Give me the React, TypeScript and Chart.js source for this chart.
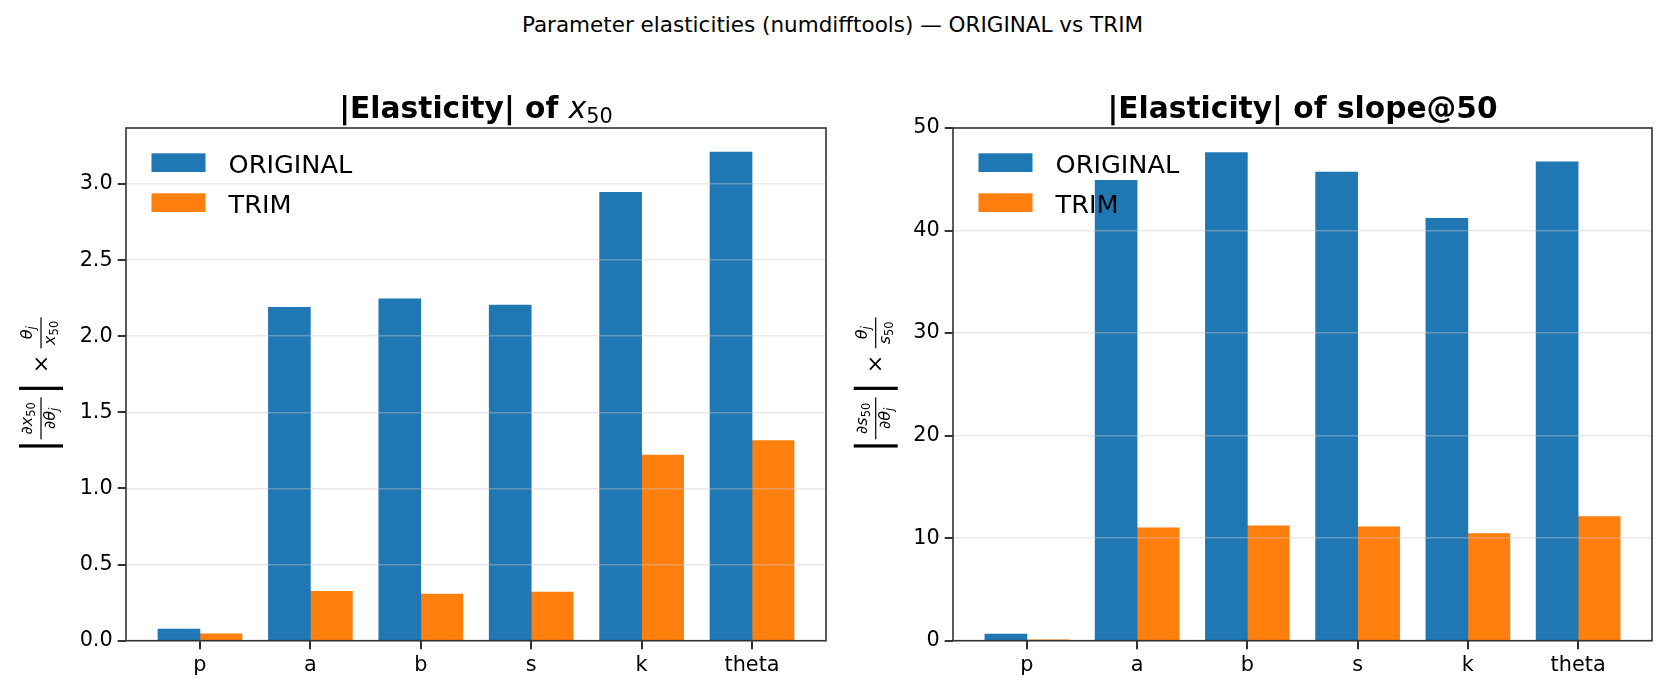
import React, { useEffect, useRef } from 'react';
import { Chart, registerables } from 'chart.js';

Chart.register(...registerables);

const categories = ['p', 'a', 'b', 's', 'k', 'theta'];
const seriesNames = ['ORIGINAL', 'TRIM'];
const seriesColors = ['#1f77b4', '#ff7f0e'];

// |elasticity| of x50
const x50Original = [0.076, 2.19, 2.245, 2.205, 2.945, 3.21];
const x50Trim = [0.045, 0.325, 0.306, 0.32, 1.22, 1.315];
const x50Ticks = [0, 0.5, 1.0, 1.5, 2.0, 2.5, 3.0];

// |elasticity| of slope@50
const slopeOriginal = [0.65, 44.9, 47.6, 45.7, 41.2, 46.7];
const slopeTrim = [0.03, 11.0, 11.2, 11.1, 10.45, 12.1];
const slopeTicks = [0, 10, 20, 30, 40, 50];

const FONT = '"DejaVu Sans"';
const H = 692;
const TICK = 7.3;

type Seg = { t: string; f: string; dy?: number };

function drawSegs(ctx: CanvasRenderingContext2D, segs: Seg[], cx: number, y: number) {
  let total = 0;
  segs.forEach((s) => {
    ctx.font = s.f;
    total += ctx.measureText(s.t).width;
  });
  let x = cx - total / 2;
  segs.forEach((s) => {
    ctx.font = s.f;
    ctx.fillText(s.t, x, y + (s.dy || 0));
    x += ctx.measureText(s.t).width;
  });
}

function drawFrac(ctx: CanvasRenderingContext2D, x0: number, x1: number, num: Seg[], den: Seg[]) {
  ctx.fillRect(x0, 0.4, x1 - x0, 1.2);
  const c = (x0 + x1) / 2;
  drawSegs(ctx, num, c, -8);
  drawSegs(ctx, den, c, 15);
}

// rotated math label |d s50 / d theta_j| x theta_j / s50
function drawYLabel(ctx: CanvasRenderingContext2D, cx: number, cy: number, sym: string) {
  ctx.save();
  ctx.translate(cx, cy);
  ctx.rotate(-Math.PI / 2);
  ctx.fillStyle = '#000';
  ctx.textAlign = 'left';
  ctx.textBaseline = 'alphabetic';
  const it = `italic 16px ${FONT}`;
  const rg = `16px ${FONT}`;
  const sub = `11.5px ${FONT}`;
  const subIt = `italic 11.5px ${FONT}`;
  ctx.fillRect(-65.2, -21, 3.2, 44);
  drawFrac(ctx, -57, -15,
    [{ t: '∂', f: rg }, { t: sym, f: it }, { t: '50', f: sub, dy: 3 }],
    [{ t: '∂', f: rg }, { t: 'θ', f: it }, { t: 'j', f: subIt, dy: 3 }]);
  ctx.fillRect(-7.6, -21, 3.2, 44);
  ctx.font = `22px ${FONT}`;
  ctx.fillText('×', 9, 7.5);
  drawFrac(ctx, 34, 65,
    [{ t: 'θ', f: it }, { t: 'j', f: subIt, dy: 3 }],
    [{ t: sym, f: it }, { t: '50', f: sub, dy: 3 }]);
  ctx.restore();
}

const decorPlugin = {
  id: 'decor',
  afterDraw(chart: any, _args: any, opts: any) {
    const { ctx, chartArea: a } = chart;
    const xs = chart.scales.x;
    const ys = chart.scales.y;
    ctx.save();
    // axes frame
    ctx.strokeStyle = '#333';
    ctx.lineWidth = 1.6;
    ctx.strokeRect(a.left, a.top, a.right - a.left, a.bottom - a.top);

    // tick marks, outward
    ctx.fillStyle = '#333';
    categories.forEach((_, i) => {
      const px = Math.round(xs.getPixelForValue(i));
      ctx.fillRect(px - 1, Math.round(a.bottom), 2, TICK + 1);
    });
    opts.yTicks.forEach((v: number) => {
      const py = Math.round(ys.getPixelForValue(v));
      ctx.fillRect(Math.round(a.left) - TICK - 1, py - 1, TICK + 1, 2);
    });

    // legend (no frame)
    ctx.textAlign = 'left';
    ctx.textBaseline = 'alphabetic';
    chart.data.datasets.forEach((ds: any, i: number) => {
      ctx.fillStyle = ds.backgroundColor;
      ctx.fillRect(a.left + 25.5, a.top + 25.3 + i * 40, 54, 18.7);
      ctx.fillStyle = '#000';
      ctx.font = `25.6px ${FONT}`;
      ctx.fillText(ds.label, a.left + 102.5, a.top + 45 + i * 40);
    });

    // title
    ctx.fillStyle = '#000';
    drawSegs(ctx, opts.title, (a.left + a.right) / 2, a.top - 9.7);

    // y label
    drawYLabel(ctx, a.left + opts.labelOffset, (a.top + a.bottom) / 2 - 2, opts.sym);
    ctx.restore();
  },
};

type PanelProps = {
  left: number;
  width: number;
  original: number[];
  trim: number[];
  ticks: number[];
  yMax: number;
  decimals: number;
  yAxisWidth: number;
  padRight: number;
  labelOffset: number;
  sym: string;
  title: Seg[];
};

const Panel = (props: PanelProps) => {
  const canvasRef = React.useRef<HTMLCanvasElement | null>(null);

  useEffect(() => {
    if (canvasRef.current === null) return;
    const series = [props.original, props.trim];
    const chart: any = new Chart(canvasRef.current, {
      type: 'bar',
      data: {
        datasets: series.map((vals, s) => ({
          label: seriesNames[s],
          data: vals.map((v, i) => ({ x: i, y: v })),
          backgroundColor: seriesColors[s],
          borderWidth: 0,
          barThickness: 42,
        })),
      },
      options: {
        animation: false,
        responsive: false,
        maintainAspectRatio: false,
        devicePixelRatio: 1,
        layout: { padding: { top: 128, right: props.padRight, left: 0, bottom: 0 } },
        plugins: {
          legend: { display: false },
          tooltip: { enabled: false },
          decor: {
            title: props.title,
            sym: props.sym,
            labelOffset: props.labelOffset,
            yTicks: props.ticks,
          },
        } as any,
        scales: {
          x: {
            type: 'linear',
            offset: false,
            min: -0.67,
            max: 5.67,
            afterBuildTicks: (axis: any) => {
              axis.ticks = categories.map((_, i) => ({ value: i }));
            },
            afterFit: (axis: any) => {
              axis.height = 51.3;
            },
            ticks: {
              callback: (v: any) => categories[v] ?? '',
              autoSkip: false,
              maxRotation: 0,
              padding: TICK + 5,
              color: '#000',
              font: { family: 'DejaVu Sans', size: 20.8 },
            },
            grid: { display: false, drawTicks: false, offset: false },
            border: { display: false },
          },
          y: {
            type: 'linear',
            min: 0,
            max: props.yMax,
            afterBuildTicks: (axis: any) => {
              axis.ticks = props.ticks.map((value) => ({ value }));
            },
            afterFit: (axis: any) => {
              axis.width = props.yAxisWidth;
            },
            ticks: {
              callback: (v: any) => Number(v).toFixed(props.decimals),
              padding: TICK + 6,
              color: '#000',
              font: { family: 'DejaVu Sans', size: 20.8 },
            },
            grid: {
              z: 1,
              offset: false,
              drawTicks: false,
              color: 'rgba(200,200,200,0.4)',
              lineWidth: 1.5,
            },
            border: { display: false },
          },
        } as any,
      },
      plugins: [decorPlugin],
    });

    return () => {
      chart.destroy();
    };
  }, [canvasRef]);

  return (
    <canvas
      ref={canvasRef}
      width={props.width}
      height={H}
      style={{ position: 'absolute', left: props.left, top: 0, width: props.width, height: H }}
    />
  );
};

const App = () => {
  const bold = `bold 29.7px ${FONT}`;
  return (
    <div style={{ position: 'absolute', left: 0, top: 0, width: 1665, height: H, background: '#fff' }}>
      <div
        style={{
          position: 'absolute',
          left: 0,
          width: 1665,
          top: 13.8,
          textAlign: 'center',
          fontFamily: 'DejaVu Sans',
          fontSize: 21.5,
          lineHeight: '21.5px',
          color: '#000',
        }}
      >
        Parameter elasticities (numdifftools) — ORIGINAL vs TRIM
      </div>
      <Panel
        left={0}
        width={832}
        original={x50Original}
        trim={x50Trim}
        ticks={x50Ticks}
        yMax={3.368}
        decimals={1}
        yAxisWidth={126}
        padRight={6}
        labelOffset={-86}
        sym="x"
        title={[
          { t: '|Elasticity| of ', f: bold },
          { t: 'x', f: `italic 29.7px ${FONT}` },
          { t: '50', f: `20.8px ${FONT}`, dy: 4.5 },
        ]}
      />
      <Panel
        left={832}
        width={833}
        original={slopeOriginal}
        trim={slopeTrim}
        ticks={slopeTicks}
        yMax={50}
        decimals={0}
        yAxisWidth={121}
        padRight={13}
        labelOffset={-78.3}
        sym="s"
        title={[{ t: '|Elasticity| of slope@50', f: bold }]}
      />
    </div>
  );
};

export default App;
